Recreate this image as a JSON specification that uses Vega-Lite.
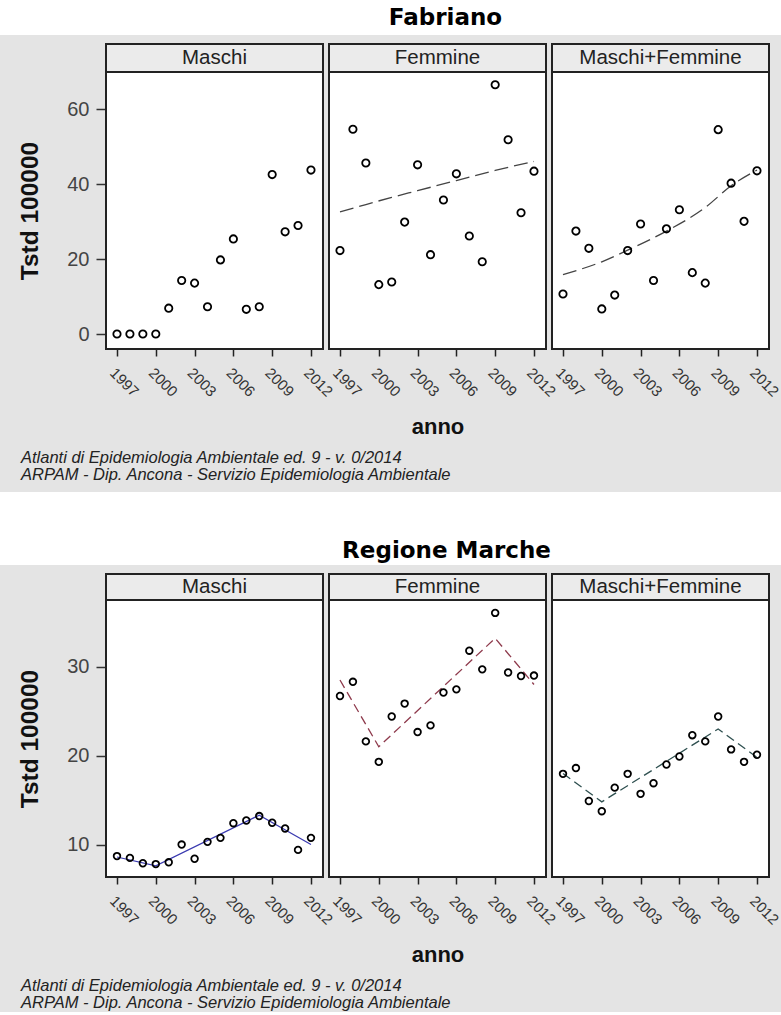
{
  "$schema": "https://vega.github.io/schema/vega-lite/v6.json",
  "background": "#e4e4e4",
  "padding": {"left": 0, "top": 0, "right": 0, "bottom": 0},
  "spacing": 8,
  "config": {"view": {"stroke": null}},
  "datasets": {
    "pts": [
      {"area": "Fabriano", "sesso": "Maschi", "anno": 1997, "tstd": 0},
      {"area": "Fabriano", "sesso": "Maschi", "anno": 1998, "tstd": 0},
      {"area": "Fabriano", "sesso": "Maschi", "anno": 1999, "tstd": 0},
      {"area": "Fabriano", "sesso": "Maschi", "anno": 2000, "tstd": 0},
      {"area": "Fabriano", "sesso": "Maschi", "anno": 2001, "tstd": 6.9},
      {"area": "Fabriano", "sesso": "Maschi", "anno": 2002, "tstd": 14.3},
      {"area": "Fabriano", "sesso": "Maschi", "anno": 2003, "tstd": 13.6},
      {"area": "Fabriano", "sesso": "Maschi", "anno": 2004, "tstd": 7.3},
      {"area": "Fabriano", "sesso": "Maschi", "anno": 2005, "tstd": 19.8},
      {"area": "Fabriano", "sesso": "Maschi", "anno": 2006, "tstd": 25.4},
      {"area": "Fabriano", "sesso": "Maschi", "anno": 2007, "tstd": 6.6},
      {"area": "Fabriano", "sesso": "Maschi", "anno": 2008, "tstd": 7.3},
      {"area": "Fabriano", "sesso": "Maschi", "anno": 2009, "tstd": 42.6},
      {"area": "Fabriano", "sesso": "Maschi", "anno": 2010, "tstd": 27.3},
      {"area": "Fabriano", "sesso": "Maschi", "anno": 2011, "tstd": 29.0},
      {"area": "Fabriano", "sesso": "Maschi", "anno": 2012, "tstd": 43.8},
      {"area": "Fabriano", "sesso": "Femmine", "anno": 1997, "tstd": 22.3},
      {"area": "Fabriano", "sesso": "Femmine", "anno": 1998, "tstd": 54.7},
      {"area": "Fabriano", "sesso": "Femmine", "anno": 1999, "tstd": 45.7},
      {"area": "Fabriano", "sesso": "Femmine", "anno": 2000, "tstd": 13.2},
      {"area": "Fabriano", "sesso": "Femmine", "anno": 2001, "tstd": 13.9},
      {"area": "Fabriano", "sesso": "Femmine", "anno": 2002, "tstd": 29.9},
      {"area": "Fabriano", "sesso": "Femmine", "anno": 2003, "tstd": 45.2},
      {"area": "Fabriano", "sesso": "Femmine", "anno": 2004, "tstd": 21.2},
      {"area": "Fabriano", "sesso": "Femmine", "anno": 2005, "tstd": 35.8},
      {"area": "Fabriano", "sesso": "Femmine", "anno": 2006, "tstd": 42.8},
      {"area": "Fabriano", "sesso": "Femmine", "anno": 2007, "tstd": 26.2},
      {"area": "Fabriano", "sesso": "Femmine", "anno": 2008, "tstd": 19.3},
      {"area": "Fabriano", "sesso": "Femmine", "anno": 2009, "tstd": 66.6},
      {"area": "Fabriano", "sesso": "Femmine", "anno": 2010, "tstd": 51.9},
      {"area": "Fabriano", "sesso": "Femmine", "anno": 2011, "tstd": 32.4},
      {"area": "Fabriano", "sesso": "Femmine", "anno": 2012, "tstd": 43.5},
      {"area": "Fabriano", "sesso": "Maschi+Femmine", "anno": 1997, "tstd": 10.7},
      {"area": "Fabriano", "sesso": "Maschi+Femmine", "anno": 1998, "tstd": 27.5},
      {"area": "Fabriano", "sesso": "Maschi+Femmine", "anno": 1999, "tstd": 22.9},
      {"area": "Fabriano", "sesso": "Maschi+Femmine", "anno": 2000, "tstd": 6.7},
      {"area": "Fabriano", "sesso": "Maschi+Femmine", "anno": 2001, "tstd": 10.4},
      {"area": "Fabriano", "sesso": "Maschi+Femmine", "anno": 2002, "tstd": 22.3},
      {"area": "Fabriano", "sesso": "Maschi+Femmine", "anno": 2003, "tstd": 29.4},
      {"area": "Fabriano", "sesso": "Maschi+Femmine", "anno": 2004, "tstd": 14.3},
      {"area": "Fabriano", "sesso": "Maschi+Femmine", "anno": 2005, "tstd": 28.1},
      {"area": "Fabriano", "sesso": "Maschi+Femmine", "anno": 2006, "tstd": 33.2},
      {"area": "Fabriano", "sesso": "Maschi+Femmine", "anno": 2007, "tstd": 16.4},
      {"area": "Fabriano", "sesso": "Maschi+Femmine", "anno": 2008, "tstd": 13.6},
      {"area": "Fabriano", "sesso": "Maschi+Femmine", "anno": 2009, "tstd": 54.6},
      {"area": "Fabriano", "sesso": "Maschi+Femmine", "anno": 2010, "tstd": 40.3},
      {"area": "Fabriano", "sesso": "Maschi+Femmine", "anno": 2011, "tstd": 30.1},
      {"area": "Fabriano", "sesso": "Maschi+Femmine", "anno": 2012, "tstd": 43.6},
      {"area": "Marche", "sesso": "Maschi", "anno": 1997, "tstd": 8.7},
      {"area": "Marche", "sesso": "Maschi", "anno": 1998, "tstd": 8.5},
      {"area": "Marche", "sesso": "Maschi", "anno": 1999, "tstd": 7.9},
      {"area": "Marche", "sesso": "Maschi", "anno": 2000, "tstd": 7.8},
      {"area": "Marche", "sesso": "Maschi", "anno": 2001, "tstd": 8.0},
      {"area": "Marche", "sesso": "Maschi", "anno": 2002, "tstd": 10.0},
      {"area": "Marche", "sesso": "Maschi", "anno": 2003, "tstd": 8.4},
      {"area": "Marche", "sesso": "Maschi", "anno": 2004, "tstd": 10.3},
      {"area": "Marche", "sesso": "Maschi", "anno": 2005, "tstd": 10.75},
      {"area": "Marche", "sesso": "Maschi", "anno": 2006, "tstd": 12.4},
      {"area": "Marche", "sesso": "Maschi", "anno": 2007, "tstd": 12.7},
      {"area": "Marche", "sesso": "Maschi", "anno": 2008, "tstd": 13.2},
      {"area": "Marche", "sesso": "Maschi", "anno": 2009, "tstd": 12.45},
      {"area": "Marche", "sesso": "Maschi", "anno": 2010, "tstd": 11.8},
      {"area": "Marche", "sesso": "Maschi", "anno": 2011, "tstd": 9.4},
      {"area": "Marche", "sesso": "Maschi", "anno": 2012, "tstd": 10.75},
      {"area": "Marche", "sesso": "Femmine", "anno": 1997, "tstd": 26.7},
      {"area": "Marche", "sesso": "Femmine", "anno": 1998, "tstd": 28.3},
      {"area": "Marche", "sesso": "Femmine", "anno": 1999, "tstd": 21.6},
      {"area": "Marche", "sesso": "Femmine", "anno": 2000, "tstd": 19.3},
      {"area": "Marche", "sesso": "Femmine", "anno": 2001, "tstd": 24.4},
      {"area": "Marche", "sesso": "Femmine", "anno": 2002, "tstd": 25.85},
      {"area": "Marche", "sesso": "Femmine", "anno": 2003, "tstd": 22.65},
      {"area": "Marche", "sesso": "Femmine", "anno": 2004, "tstd": 23.4},
      {"area": "Marche", "sesso": "Femmine", "anno": 2005, "tstd": 27.1},
      {"area": "Marche", "sesso": "Femmine", "anno": 2006, "tstd": 27.45},
      {"area": "Marche", "sesso": "Femmine", "anno": 2007, "tstd": 31.8},
      {"area": "Marche", "sesso": "Femmine", "anno": 2008, "tstd": 29.7},
      {"area": "Marche", "sesso": "Femmine", "anno": 2009, "tstd": 36.05},
      {"area": "Marche", "sesso": "Femmine", "anno": 2010, "tstd": 29.35},
      {"area": "Marche", "sesso": "Femmine", "anno": 2011, "tstd": 28.95},
      {"area": "Marche", "sesso": "Femmine", "anno": 2012, "tstd": 29.0},
      {"area": "Marche", "sesso": "Maschi+Femmine", "anno": 1997, "tstd": 17.95},
      {"area": "Marche", "sesso": "Maschi+Femmine", "anno": 1998, "tstd": 18.6},
      {"area": "Marche", "sesso": "Maschi+Femmine", "anno": 1999, "tstd": 14.9},
      {"area": "Marche", "sesso": "Maschi+Femmine", "anno": 2000, "tstd": 13.75},
      {"area": "Marche", "sesso": "Maschi+Femmine", "anno": 2001, "tstd": 16.4},
      {"area": "Marche", "sesso": "Maschi+Femmine", "anno": 2002, "tstd": 17.95},
      {"area": "Marche", "sesso": "Maschi+Femmine", "anno": 2003, "tstd": 15.7},
      {"area": "Marche", "sesso": "Maschi+Femmine", "anno": 2004, "tstd": 16.9},
      {"area": "Marche", "sesso": "Maschi+Femmine", "anno": 2005, "tstd": 19.0},
      {"area": "Marche", "sesso": "Maschi+Femmine", "anno": 2006, "tstd": 19.9},
      {"area": "Marche", "sesso": "Maschi+Femmine", "anno": 2007, "tstd": 22.3},
      {"area": "Marche", "sesso": "Maschi+Femmine", "anno": 2008, "tstd": 21.6},
      {"area": "Marche", "sesso": "Maschi+Femmine", "anno": 2009, "tstd": 24.4},
      {"area": "Marche", "sesso": "Maschi+Femmine", "anno": 2010, "tstd": 20.7},
      {"area": "Marche", "sesso": "Maschi+Femmine", "anno": 2011, "tstd": 19.3},
      {"area": "Marche", "sesso": "Maschi+Femmine", "anno": 2012, "tstd": 20.1}
    ],
    "fit": [
      {"area": "Fabriano", "sesso": "Femmine", "anno": 1997, "tstd": 32.6},
      {"area": "Fabriano", "sesso": "Femmine", "anno": 1999, "tstd": 34.6},
      {"area": "Fabriano", "sesso": "Femmine", "anno": 2001, "tstd": 36.5},
      {"area": "Fabriano", "sesso": "Femmine", "anno": 2003, "tstd": 38.3},
      {"area": "Fabriano", "sesso": "Femmine", "anno": 2006, "tstd": 41.0},
      {"area": "Fabriano", "sesso": "Femmine", "anno": 2009, "tstd": 43.7},
      {"area": "Fabriano", "sesso": "Femmine", "anno": 2012, "tstd": 46.1},
      {"area": "Fabriano", "sesso": "Maschi+Femmine", "anno": 1997, "tstd": 15.9},
      {"area": "Fabriano", "sesso": "Maschi+Femmine", "anno": 2000, "tstd": 19.3},
      {"area": "Fabriano", "sesso": "Maschi+Femmine", "anno": 2002, "tstd": 22.4},
      {"area": "Fabriano", "sesso": "Maschi+Femmine", "anno": 2005, "tstd": 27.5},
      {"area": "Fabriano", "sesso": "Maschi+Femmine", "anno": 2008, "tstd": 33.8},
      {"area": "Fabriano", "sesso": "Maschi+Femmine", "anno": 2010, "tstd": 39.6},
      {"area": "Fabriano", "sesso": "Maschi+Femmine", "anno": 2012, "tstd": 43.8},
      {"area": "Marche", "sesso": "Maschi", "anno": 1997, "tstd": 8.6},
      {"area": "Marche", "sesso": "Maschi", "anno": 2000, "tstd": 7.6},
      {"area": "Marche", "sesso": "Maschi", "anno": 2008, "tstd": 13.3},
      {"area": "Marche", "sesso": "Maschi", "anno": 2012, "tstd": 10.0},
      {"area": "Marche", "sesso": "Femmine", "anno": 1997, "tstd": 28.5},
      {"area": "Marche", "sesso": "Femmine", "anno": 2000, "tstd": 21.0},
      {"area": "Marche", "sesso": "Femmine", "anno": 2009, "tstd": 33.2},
      {"area": "Marche", "sesso": "Femmine", "anno": 2012, "tstd": 28.0},
      {"area": "Marche", "sesso": "Maschi+Femmine", "anno": 1997, "tstd": 18.0},
      {"area": "Marche", "sesso": "Maschi+Femmine", "anno": 2000, "tstd": 14.8},
      {"area": "Marche", "sesso": "Maschi+Femmine", "anno": 2009, "tstd": 23.0},
      {"area": "Marche", "sesso": "Maschi+Femmine", "anno": 2012, "tstd": 19.8}
    ]
  },
  "vconcat": [
    {
      "width": 781, "height": 35,
      "data": {"values": [{"t": "Fabriano"}]},
      "mark": {"type": "text", "font": "DejaVu Sans", "fontSize": 23, "fontWeight": "bold", "color": "black", "dx": 55, "dy": 0},
      "encoding": {"text": {"field": "t"}},
      "view": {"fill": "white", "stroke": null}
    },
    {
      "title": {"text": ["Atlanti di Epidemiologia Ambientale ed. 9 - v. 0/2014", "ARPAM - Dip. Ancona - Servizio Epidemiologia Ambientale"], "orient": "bottom", "anchor": "start", "dx": 21, "font": "Liberation Sans", "fontSize": 16.5, "fontStyle": "italic", "fontWeight": "normal", "color": "#222", "lineHeight": 17, "offset": 12},
      "columns": 4,
      "bounds": "flush",
      "spacing": {"row": 0, "column": 6},
      "concat": [
        {"width": 100, "height": 28, "data": {"values": [{"label": ""}]}, "mark": {"type": "text"}, "encoding": {"text": {"field": "label"}}},
        {"width": 217, "height": 28, "data": {"values": [{"label": "Maschi"}]}, "mark": {"type": "text", "font": "Liberation Sans", "fontSize": 20.5, "color": "#222"}, "encoding": {"text": {"field": "label"}}, "view": {"fill": "#ebebeb", "stroke": "#222", "strokeWidth": 2}},
        {"width": 217, "height": 28, "data": {"values": [{"label": "Femmine"}]}, "mark": {"type": "text", "font": "Liberation Sans", "fontSize": 20.5, "color": "#222"}, "encoding": {"text": {"field": "label"}}, "view": {"fill": "#ebebeb", "stroke": "#222", "strokeWidth": 2}},
        {"width": 217, "height": 28, "data": {"values": [{"label": "Maschi+Femmine"}]}, "mark": {"type": "text", "font": "Liberation Sans", "fontSize": 20.5, "color": "#222"}, "encoding": {"text": {"field": "label"}}, "view": {"fill": "#ebebeb", "stroke": "#222", "strokeWidth": 2}},
        {
          "width": 100, "height": 277,
          "data": {"name": "pts"},
          "transform": [{"filter": "datum.area === 'Fabriano' && datum.sesso === 'Maschi'"}],
          "mark": {"type": "point", "opacity": 0},
          "encoding": {
            "y": {"field": "tstd", "type": "quantitative", "scale": {"domain": [-4, 70], "nice": false, "zero": false}, "axis": {"offset": -106, "values": [0, 20, 40, 60], "labelFont": "Liberation Sans", "labelFontSize": 20, "labelColor": "#444", "labelPadding": 7, "tickSize": 10, "tickColor": "#333", "tickWidth": 1.5, "domain": false, "grid": false, "title": "Tstd 100000", "titleFont": "Liberation Sans", "titleFontSize": 24.5, "titleFontWeight": "bold", "titleColor": "#111", "titlePadding": 24}}
          }
        },
        {
          "width": 217, "height": 277,
          "view": {"fill": "white", "stroke": "#222", "strokeWidth": 2},
          "encoding": {
            "x": {"field": "anno", "type": "quantitative", "scale": {"domain": [1996.15, 2012.93], "nice": false, "zero": false}, "axis": {"values": [1997, 2000, 2003, 2006, 2009, 2012], "format": "d", "labelAngle": 45, "labelAlign": "left", "labelBaseline": "top", "labelFont": "Liberation Sans", "labelFontSize": 15, "labelColor": "#333", "labelPadding": 9, "tickSize": 7, "tickColor": "#222", "tickWidth": 1.5, "domain": false, "grid": false, "title": null, "labelOverlap": false, "labelBound": false, "labelFlush": false}},
            "y": {"field": "tstd", "type": "quantitative", "scale": {"domain": [-4, 70], "nice": false, "zero": false}, "axis": null}
          },
          "layer": [
            {"data": {"name": "pts"}, "transform": [{"filter": "datum.area === 'Fabriano' && datum.sesso === 'Maschi'"}], "mark": {"type": "point", "shape": "circle", "filled": false, "color": "black", "size": 54, "strokeWidth": 1.8, "opacity": 1}}
          ]
        },
        {
          "width": 217, "height": 277,
          "view": {"fill": "white", "stroke": "#222", "strokeWidth": 2},
          "encoding": {
            "x": {"field": "anno", "type": "quantitative", "scale": {"domain": [1996.15, 2012.93], "nice": false, "zero": false}, "axis": {"values": [1997, 2000, 2003, 2006, 2009, 2012], "format": "d", "labelAngle": 45, "labelAlign": "left", "labelBaseline": "top", "labelFont": "Liberation Sans", "labelFontSize": 15, "labelColor": "#333", "labelPadding": 9, "tickSize": 7, "tickColor": "#222", "tickWidth": 1.5, "domain": false, "grid": false, "title": "anno", "titleFont": "Liberation Sans", "titleFontSize": 22, "titleFontWeight": "bold", "titleColor": "#111", "titlePadding": 17, "labelOverlap": false, "labelBound": false, "labelFlush": false}},
            "y": {"field": "tstd", "type": "quantitative", "scale": {"domain": [-4, 70], "nice": false, "zero": false}, "axis": null}
          },
          "layer": [
            {"data": {"name": "fit"}, "transform": [{"filter": "datum.area === 'Fabriano' && datum.sesso === 'Femmine'"}], "mark": {"type": "line", "color": "#444", "strokeWidth": 1.3, "strokeDash": [14, 6], "interpolate": "monotone"}},
            {"data": {"name": "pts"}, "transform": [{"filter": "datum.area === 'Fabriano' && datum.sesso === 'Femmine'"}], "mark": {"type": "point", "shape": "circle", "filled": false, "color": "black", "size": 54, "strokeWidth": 1.8, "opacity": 1}}
          ]
        },
        {
          "width": 217, "height": 277,
          "view": {"fill": "white", "stroke": "#222", "strokeWidth": 2},
          "encoding": {
            "x": {"field": "anno", "type": "quantitative", "scale": {"domain": [1996.15, 2012.93], "nice": false, "zero": false}, "axis": {"values": [1997, 2000, 2003, 2006, 2009, 2012], "format": "d", "labelAngle": 45, "labelAlign": "left", "labelBaseline": "top", "labelFont": "Liberation Sans", "labelFontSize": 15, "labelColor": "#333", "labelPadding": 9, "tickSize": 7, "tickColor": "#222", "tickWidth": 1.5, "domain": false, "grid": false, "title": null, "labelOverlap": false, "labelBound": false, "labelFlush": false}},
            "y": {"field": "tstd", "type": "quantitative", "scale": {"domain": [-4, 70], "nice": false, "zero": false}, "axis": null}
          },
          "layer": [
            {"data": {"name": "fit"}, "transform": [{"filter": "datum.area === 'Fabriano' && datum.sesso === 'Maschi+Femmine'"}], "mark": {"type": "line", "color": "#444", "strokeWidth": 1.3, "strokeDash": [14, 6], "interpolate": "monotone"}},
            {"data": {"name": "pts"}, "transform": [{"filter": "datum.area === 'Fabriano' && datum.sesso === 'Maschi+Femmine'"}], "mark": {"type": "point", "shape": "circle", "filled": false, "color": "black", "size": 54, "strokeWidth": 1.8, "opacity": 1}}
          ]
        }
      ]
    },
    {
      "width": 781, "height": 73,
      "data": {"values": [{"t": "Regione Marche"}]},
      "mark": {"type": "text", "font": "DejaVu Sans", "fontSize": 23, "fontWeight": "bold", "color": "black", "dx": 56, "dy": 22},
      "encoding": {"text": {"field": "t"}},
      "view": {"fill": "white", "stroke": null}
    },
    {
      "title": {"text": ["Atlanti di Epidemiologia Ambientale ed. 9 - v. 0/2014", "ARPAM - Dip. Ancona - Servizio Epidemiologia Ambientale"], "orient": "bottom", "anchor": "start", "dx": 21, "font": "Liberation Sans", "fontSize": 16.5, "fontStyle": "italic", "fontWeight": "normal", "color": "#222", "lineHeight": 17, "offset": 12},
      "columns": 4,
      "bounds": "flush",
      "spacing": {"row": 0, "column": 6},
      "concat": [
        {"width": 100, "height": 26, "data": {"values": [{"label": ""}]}, "mark": {"type": "text"}, "encoding": {"text": {"field": "label"}}},
        {"width": 217, "height": 26, "data": {"values": [{"label": "Maschi"}]}, "mark": {"type": "text", "font": "Liberation Sans", "fontSize": 20.5, "color": "#222"}, "encoding": {"text": {"field": "label"}}, "view": {"fill": "#ebebeb", "stroke": "#222", "strokeWidth": 2}},
        {"width": 217, "height": 26, "data": {"values": [{"label": "Femmine"}]}, "mark": {"type": "text", "font": "Liberation Sans", "fontSize": 20.5, "color": "#222"}, "encoding": {"text": {"field": "label"}}, "view": {"fill": "#ebebeb", "stroke": "#222", "strokeWidth": 2}},
        {"width": 217, "height": 26, "data": {"values": [{"label": "Maschi+Femmine"}]}, "mark": {"type": "text", "font": "Liberation Sans", "fontSize": 20.5, "color": "#222"}, "encoding": {"text": {"field": "label"}}, "view": {"fill": "#ebebeb", "stroke": "#222", "strokeWidth": 2}},
        {
          "width": 100, "height": 277,
          "data": {"name": "pts"},
          "transform": [{"filter": "datum.area === 'Marche' && datum.sesso === 'Maschi'"}],
          "mark": {"type": "point", "opacity": 0},
          "encoding": {
            "y": {"field": "tstd", "type": "quantitative", "scale": {"domain": [6.35, 37.5], "nice": false, "zero": false}, "axis": {"offset": -106, "values": [10, 20, 30], "labelFont": "Liberation Sans", "labelFontSize": 20, "labelColor": "#444", "labelPadding": 7, "tickSize": 10, "tickColor": "#333", "tickWidth": 1.5, "domain": false, "grid": false, "title": "Tstd 100000", "titleFont": "Liberation Sans", "titleFontSize": 24.5, "titleFontWeight": "bold", "titleColor": "#111", "titlePadding": 24}}
          }
        },
        {
          "width": 217, "height": 277,
          "view": {"fill": "white", "stroke": "#222", "strokeWidth": 2},
          "encoding": {
            "x": {"field": "anno", "type": "quantitative", "scale": {"domain": [1996.15, 2012.93], "nice": false, "zero": false}, "axis": {"values": [1997, 2000, 2003, 2006, 2009, 2012], "format": "d", "labelAngle": 45, "labelAlign": "left", "labelBaseline": "top", "labelFont": "Liberation Sans", "labelFontSize": 15, "labelColor": "#333", "labelPadding": 9, "tickSize": 7, "tickColor": "#222", "tickWidth": 1.5, "domain": false, "grid": false, "title": null, "labelOverlap": false, "labelBound": false, "labelFlush": false}},
            "y": {"field": "tstd", "type": "quantitative", "scale": {"domain": [6.35, 37.5], "nice": false, "zero": false}, "axis": null}
          },
          "layer": [
            {"data": {"name": "fit"}, "transform": [{"filter": "datum.area === 'Marche' && datum.sesso === 'Maschi'"}], "mark": {"type": "line", "color": "#3a3ab0", "strokeWidth": 1.2}},
            {"data": {"name": "pts"}, "transform": [{"filter": "datum.area === 'Marche' && datum.sesso === 'Maschi'"}], "mark": {"type": "point", "shape": "circle", "filled": false, "color": "black", "size": 44, "strokeWidth": 1.8, "opacity": 1}}
          ]
        },
        {
          "width": 217, "height": 277,
          "view": {"fill": "white", "stroke": "#222", "strokeWidth": 2},
          "encoding": {
            "x": {"field": "anno", "type": "quantitative", "scale": {"domain": [1996.15, 2012.93], "nice": false, "zero": false}, "axis": {"values": [1997, 2000, 2003, 2006, 2009, 2012], "format": "d", "labelAngle": 45, "labelAlign": "left", "labelBaseline": "top", "labelFont": "Liberation Sans", "labelFontSize": 15, "labelColor": "#333", "labelPadding": 9, "tickSize": 7, "tickColor": "#222", "tickWidth": 1.5, "domain": false, "grid": false, "title": "anno", "titleFont": "Liberation Sans", "titleFontSize": 22, "titleFontWeight": "bold", "titleColor": "#111", "titlePadding": 17, "labelOverlap": false, "labelBound": false, "labelFlush": false}},
            "y": {"field": "tstd", "type": "quantitative", "scale": {"domain": [6.35, 37.5], "nice": false, "zero": false}, "axis": null}
          },
          "layer": [
            {"data": {"name": "fit"}, "transform": [{"filter": "datum.area === 'Marche' && datum.sesso === 'Femmine'"}], "mark": {"type": "line", "color": "#8e3a4c", "strokeWidth": 1.3, "strokeDash": [9, 5]}},
            {"data": {"name": "pts"}, "transform": [{"filter": "datum.area === 'Marche' && datum.sesso === 'Femmine'"}], "mark": {"type": "point", "shape": "circle", "filled": false, "color": "black", "size": 44, "strokeWidth": 1.8, "opacity": 1}}
          ]
        },
        {
          "width": 217, "height": 277,
          "view": {"fill": "white", "stroke": "#222", "strokeWidth": 2},
          "encoding": {
            "x": {"field": "anno", "type": "quantitative", "scale": {"domain": [1996.15, 2012.93], "nice": false, "zero": false}, "axis": {"values": [1997, 2000, 2003, 2006, 2009, 2012], "format": "d", "labelAngle": 45, "labelAlign": "left", "labelBaseline": "top", "labelFont": "Liberation Sans", "labelFontSize": 15, "labelColor": "#333", "labelPadding": 9, "tickSize": 7, "tickColor": "#222", "tickWidth": 1.5, "domain": false, "grid": false, "title": null, "labelOverlap": false, "labelBound": false, "labelFlush": false}},
            "y": {"field": "tstd", "type": "quantitative", "scale": {"domain": [6.35, 37.5], "nice": false, "zero": false}, "axis": null}
          },
          "layer": [
            {"data": {"name": "fit"}, "transform": [{"filter": "datum.area === 'Marche' && datum.sesso === 'Maschi+Femmine'"}], "mark": {"type": "line", "color": "#2f5050", "strokeWidth": 1.3, "strokeDash": [9, 5]}},
            {"data": {"name": "pts"}, "transform": [{"filter": "datum.area === 'Marche' && datum.sesso === 'Maschi+Femmine'"}], "mark": {"type": "point", "shape": "circle", "filled": false, "color": "black", "size": 44, "strokeWidth": 1.8, "opacity": 1}}
          ]
        }
      ]
    }
  ]
}
